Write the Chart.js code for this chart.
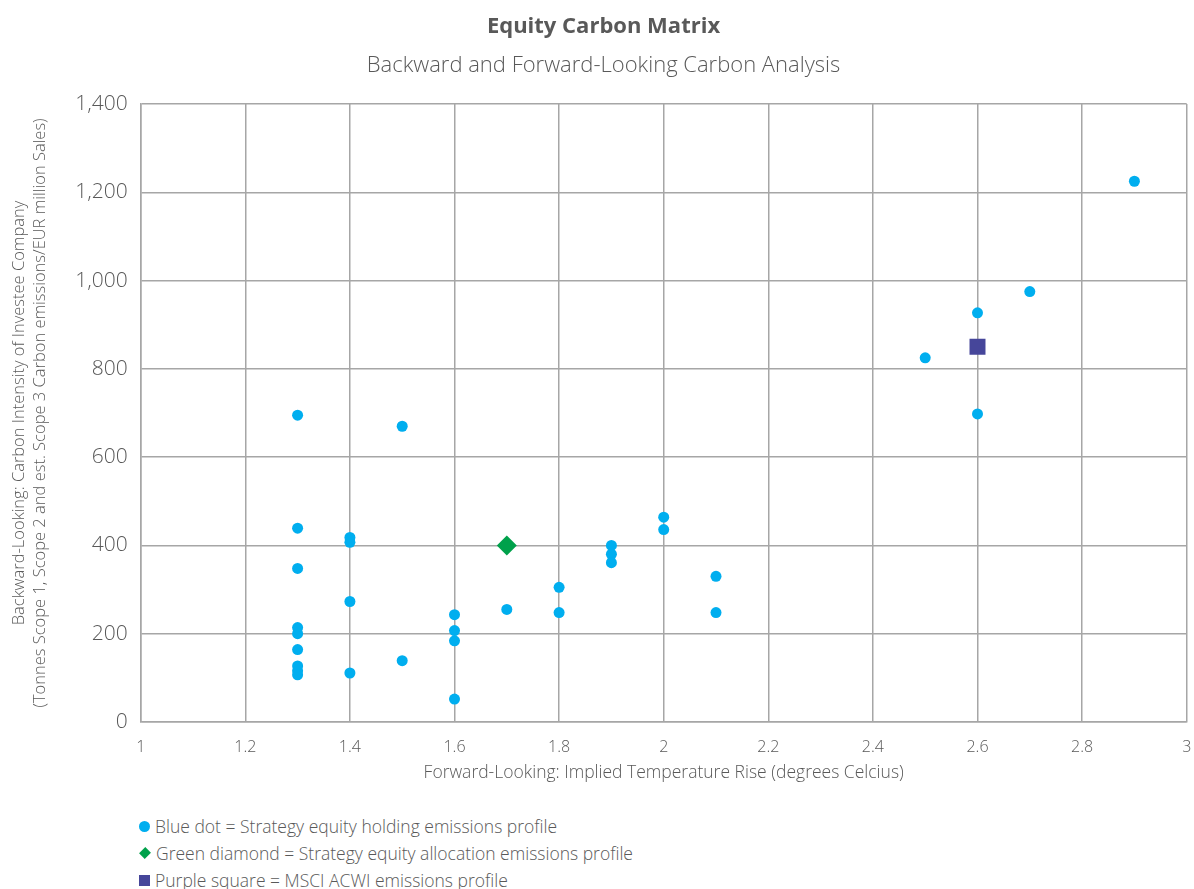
<!DOCTYPE html>
<html>
<head>
<meta charset="utf-8">
<script src="https://cdn.jsdelivr.net/npm/chart.js@4"></script>
<style>
  html, body { margin: 0; background: #fff; font-family: "Open Sans", sans-serif; overflow: hidden; }
  #wrap { position: relative; width: 1198px; height: 800px; }
  .legend { position: absolute; left: 139px; top: 813px; color: #595959; font-size: 17.5px; font-weight: 300; }
  .legend div { height: 27px; line-height: 26px; white-space: nowrap; }
  .sym { display: inline-block; margin-right: 5px; vertical-align: middle; position: relative; top: -2px; }
  .dot { width: 11px; height: 11px; border-radius: 50%; background: #00aeef; }
  .dia { width: 8px; height: 8px; background: #00a14b; transform: rotate(45deg) scale(1, 1.1); margin-left: 2px; margin-right: 7px; }
  .sq { width: 11px; height: 11px; background: #46469a; }
</style>
</head>
<body>
<div id="wrap"><canvas id="chart" width="1198" height="800"></canvas></div>
<div class="legend">
  <div><span class="sym dot"></span>Blue dot = Strategy equity holding emissions profile</div>
  <div><span class="sym dia"></span>Green diamond = Strategy equity allocation emissions profile</div>
  <div><span class="sym sq"></span>Purple square = MSCI ACWI emissions profile</div>
</div>
<script>
// holdings (blue dots)
const holdingX = [1.3, 1.3, 1.3, 1.3, 1.3, 1.3, 1.3, 1.3, 1.3,
                  1.4, 1.4, 1.4, 1.4,
                  1.5, 1.5,
                  1.6, 1.6, 1.6, 1.6,
                  1.7,
                  1.8, 1.8,
                  1.9, 1.9, 1.9,
                  2.0, 2.0,
                  2.1, 2.1,
                  2.5, 2.6, 2.6, 2.7, 2.9];
const holdingY = [695, 439, 348, 214, 200, 164, 127, 116, 107,
                  418, 407, 273, 111,
                  670, 139,
                  243, 207, 184, 52,
                  255,
                  305, 248,
                  400, 380, 361,
                  464, 436,
                  330, 248,
                  825, 927, 698, 975, 1225];
// strategy allocation (green diamond)
const allocX = [1.7];
const allocY = [400];
// MSCI ACWI (purple square)
const acwiX = [2.6];
const acwiY = [850];

const xTicks = [1, 1.2, 1.4, 1.6, 1.8, 2, 2.2, 2.4, 2.6, 2.8, 3];
const yTicks = [0, 200, 400, 600, 800, 1000, 1200, 1400];

const toPts = (xs, ys) => xs.map((x, i) => ({ x: x, y: ys[i] }));
const grey = '#595959';
const gridCol = '#a6a6a6';
const FONT = '"Open Sans", sans-serif';

new Chart(document.getElementById('chart'), {
    type: 'scatter',
    data: {
        datasets: [
            { label: 'MSCI ACWI', data: toPts(acwiX, acwiY), pointStyle: 'rect', pointRadius: 11.3,
              backgroundColor: '#46469a', borderWidth: 0, order: 1 },
            { label: 'Allocation', data: toPts(allocX, allocY), pointStyle: 'rectRot', pointRadius: 10,
              backgroundColor: '#00a14b', borderWidth: 0, order: 2 },
            { label: 'Holdings', data: toPts(holdingX, holdingY), pointStyle: 'circle', pointRadius: 5.5,
              backgroundColor: '#00aeef', borderWidth: 0, order: 3 }
        ]
    },
    options: {
        responsive: false,
        animation: false,
        layout: { padding: { left: 9, right: 0, top: 0, bottom: 16.5 } },
        plugins: {
            legend: { display: false },
            tooltip: { enabled: false },
            title: {
                display: true, text: 'Equity Carbon Matrix', color: grey,
                font: { family: FONT, size: 22, weight: 'bold' },
                padding: { top: 13.8, bottom: 12.6 }
            },
            subtitle: {
                display: true, text: 'Backward and Forward-Looking Carbon Analysis', color: grey,
                font: { family: FONT, size: 22, weight: 300 },
                padding: { top: 0, bottom: 24.8 }
            }
        },
        scales: {
            x: {
                type: 'linear', min: 1, max: 3,
                afterBuildTicks: (ax) => { ax.ticks = xTicks.map(v => ({ value: v })); },
                afterFit: (s) => { s.height = 61.5; s.paddingRight = 4; },
                grid: { color: gridCol, lineWidth: 1.5, drawTicks: false },
                border: { color: gridCol, width: 1.5 },
                ticks: {
                    color: grey, padding: 15.4, maxRotation: 0,
                    font: { family: FONT, size: 16, weight: 300 },
                    callback: v => String(Math.round(v * 10) / 10)
                },
                title: {
                    display: true, text: 'Forward-Looking: Implied Temperature Rise (degrees Celcius)', color: grey,
                    font: { family: FONT, size: 17.5, weight: 300 },
                    padding: { top: 4, bottom: 0 }
                }
            },
            y: {
                type: 'linear', min: 0, max: 1400,
                afterBuildTicks: (ax) => { ax.ticks = yTicks.map(v => ({ value: v })); },
                grid: { color: gridCol, lineWidth: 1.5, drawTicks: false },
                border: { color: gridCol, width: 1.5 },
                ticks: {
                    color: grey, padding: 13,
                    font: { family: FONT, size: 21, weight: 300 },
                    callback: v => v.toLocaleString('en-US')
                },
                title: {
                    display: true,
                    text: ['Backward-Looking: Carbon Intensity of Investee Company',
                           '(Tonnes Scope 1, Scope 2 and est. Scope 3 Carbon emissions/EUR million Sales)'],
                    color: grey,
                    font: { family: FONT, size: 16.5, weight: 300, lineHeight: 1.25 },
                    padding: { top: 0, bottom: 12 }
                }
            }
        }
    }
});
</script>
</body>
</html>
